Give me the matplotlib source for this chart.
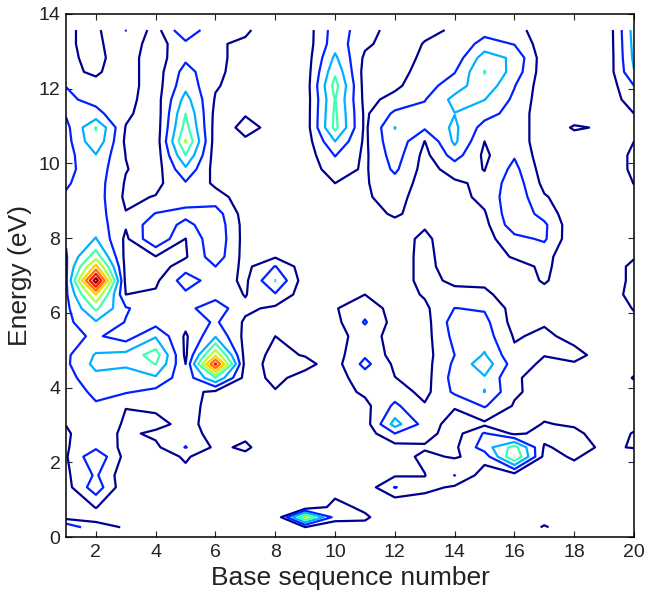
import numpy as np
import matplotlib
matplotlib.use("Agg")
import matplotlib.pyplot as plt

plt.rcParams['font.family'] = ['Liberation Sans', 'DejaVu Sans']

# energy rows (eV), bottom to top
energy = [0.26, 0.53, 0.8, 1.33, 1.65, 2.15, 2.4, 2.77, 3.02, 3.51, 3.885, 4.26, 4.63,
          4.87, 5.375, 5.75, 6.12, 6.49, 6.865, 7.24, 7.5, 7.98, 8.355, 8.65, 9.1, 9.47,
          9.845, 10.22, 10.59, 10.96, 11.335, 11.71, 12.08, 12.45, 12.825, 13.2, 13.57]
base_seq = list(range(1, 21))

# intensity per base sequence, one value per energy row
seq_01 = [2.8, .6, .6, .6, .8, .9, .9, .9, 1.02, 1.4, 1.5, 1.6, 1.8, 1.8, 1.7, 1.7, 1.7, 1.8, 1.8, 1.85, 1.9, 2.1, 2.2, 2.2, 2.1, 1.9, 1.7, 1.6, 1.6, 1.7, 2.1, 2.2, 1.98, 1.15, 1.15, 1.1, 1.1]
seq_02 = [1.22, .8, 1.02, 2.6, 2.15, 2.8, 1.8, 1.5, 1.5, 1.9, 2.2, 2.7, 3.3, 3.1, 2.15, 2.9, 4.2, 6.0, 9.6, 6.3, 4.6, 3.05, 2.6, 2.5, 2.5, 2.5, 2.6, 2.95, 3.8, 4.05, 2.3, 1.7, 1.2, .9, .8, .8, .8]
seq_03 = [.95, .7, .6, .2, .3, .65, .7, .8, .9, 1.02, 2.1, 2.7, 3.1, 3.3, 1.5, 1.95, 2.1, 1.0, .7, .7, .7, .8, 1.1, 1.05, .8, .9, 1.05, .98, .8, .95, 1.2, 1.3, 1.4, 1.4, 1.4, 1.6, 2.02]
seq_04 = [.6, .6, .6, .5, .5, .6, .8, 1.2, .7, 1.2, 1.7, 2.85, 4.05, 4.5, 2.9, 1.6, 1.4, 1.15, .8, .4, .95, 2.9, 2.7, 2.05, 1.05, .7, .5, .4, .4, .4, .4, .5, .5, .5, .5, .5, .6]
seq_05 = [.5, .5, .5, .6, .8, 1.1, 2.05, 1.5, 1.3, 1.3, 1.3, 1.3, 1.0, .8, .85, 1.3, 1.7, 1.8, 2.5, 1.6, .9, .98, 1.7, 2.3, 1.5, 1.9, 2.8, 4.0, 5.1, 4.4, 4.0, 3.4, 2.7, 2.4, 1.8, 1.75, 2.9]
seq_06 = [.5, .5, .5, .5, .5, .5, .8, .6, .6, .7, .8, 4.0, 8.2, 5.8, 2.9, 2.15, 2.6, 1.6, 1.5, 2.0, 2.6, 2.8, 2.7, 2.5, 1.4, .8, .6, .5, .5, .6, .7, .9, 1.1, 1.2, 1.2, 1.1, 1.1]
seq_07 = [.5, .5, .5, .5, .5, .8, 1.15, .8, .6, .6, .6, .6, .6, .6, .7, .85, 1.2, .95, .8, .7, .6, .6, .6, .5, .5, .5, .5, .5, .9, 1.2, .95, .5, .5, .6, .7, .85, 1.15]
seq_08 = [.3, 0, .3, .4, .4, .4, .4, .4, .4, .5, .95, 1.2, 1.3, 1.2, 1.0, .8, .8, 1.9, 3.02, 2.05, .9, .6, .5, .5, .5, .5, .5, .5, .5, .8, .5, .4, .4, .4, .4, .4, .4]
seq_09 = [.95, 5.2, .2, .4, .4, .4, .4, .4, .4, .4, .4, .7, 1.25, .95, .5, .4, .4, .4, .4, .4, .4, .4, .4, .4, .4, .4, .4, .4, .4, .4, .4, .4, .4, .4, .4, .4, .4]
seq_10 = [.1, 1.6, 1.3, .6, .4, .4, .4, .4, .4, .4, .5, .6, .6, .6, .6, .7, .93, .6, .5, .4, .4, .4, .4, .5, .8, 1.0, 1.5, 2.05, 3.0, 4.3, 4.2, 4.05, 4.4, 3.8, 3.2, 2.6, 2.5]
seq_11 = [.7, 1.15, .8, .4, .3, .3, .3, .4, .5, .7, 1.2, 1.5, 2.3, 1.85, 1.5, 2.1, 1.6, 1.0, .7, .5, .5, .5, .6, .7, .9, .9, .85, .8, .8, .8, .8, .7, .6, .6, .8, 1.2, 1.5]
seq_12 = [.3, .3, .0, 2.05, .9, .6, .6, 2.0, 3.4, 2.2, 1.5, 1.02, .8, .6, .6, .6, .6, .5, .5, .5, .5, .6, .8, 1.1, 1.3, 1.6, 2.2, 2.5, 2.8, 3.02, 2.2, 1.3, .8, .6, .5, .5, .5]
seq_13 = [.3, .3, .3, 1.3, .97, 1.2, .9, 1.3, 1.6, 1.1, .7, .6, .6, .6, .6, .6, .8, 1.1, 1.3, 1.3, 1.3, 1.2, .9, .7, .6, .6, .6, .7, .98, 2.15, 2.3, 1.95, 1.6, 1.4, 1.2, 1.05, .8]
seq_14 = [.3, .3, .3, .85, 2.02, .9, .8, .6, .5, 1.1, 2.2, 2.4, 2.2, 2.0, 2.3, 2.5, 2.02, 1.3, .8, .5, .4, .4, .4, .5, .6, .85, 1.4, 2.45, 3.2, 3.2, 2.98, 3.3, 2.5, 1.95, 1.4, 1.2, 1.1]
seq_15 = [.3, .3, .3, .3, .5, 1.4, 2.5, 2.1, .8, 2.1, 3.02, 2.9, 3.6, 3.1, 2.5, 2.3, 1.9, 1.2, .8, .5, .5, .6, .7, .9, 1.3, 1.2, .97, .8, 1.0, 1.6, 2.4, 3.02, 3.7, 4.05, 3.5, 2.4, 1.6]
seq_16 = [.3, .3, .3, .3, .5, 5.02, 4.4, .8, .6, .9, 1.15, 1.1, 1.5, 1.2, .9, .6, .6, .5, .5, .6, 1.1, 1.7, 2.6, 2.8, 2.7, 2.6, 2.3, 1.9, 1.6, 1.6, 1.6, 1.8, 2.05, 2.6, 2.8, 1.95, 1.4]
seq_17 = [1.1, .6, .4, .4, .5, .7, .9, 1.3, 1.05, .7, .6, .7, .8, 1.03, 1.2, .9, .7, .7, 1.1, 1.2, 1.3, 2.15, 2.2, 1.6, 1.1, .7, .5, .4, .4, .4, .4, .4, .4, .4, .4, .4, .4]
seq_18 = [.4, .4, .4, .4, .6, 1.1, 1.3, 1.2, .9, .5, .5, .6, .9, 1.3, .7, .5, .4, .4, .4, .4, .3, .2, .2, .3, .4, .4, .4, .4, .6, 1.1, .5, .4, .4, .4, .4, .4, .4]
seq_19 = [.4, .4, .4, .4, .4, .6, .87, .6, .4, .4, .4, .4, .5, .6, .5, .4, .4, .3, .2, .2, .3, .3, .3, .3, .3, .3, .3, .3, .5, .9, .4, .3, .2, .1, 0, 0, 0]
seq_20 = [.4, .4, .4, .4, .4, .5, 1.05, 1.05, .8, .7, .7, 1.05, .7, .7, .7, .8, 1.05, 1.4, 1.3, 1.3, .9, .7, .6, .6, .8, 1.02, 1.2, 1.2, 1.0, .8, 1.0, 1.5, 2.0, 2.95, 3.2, 3.3, 3.4]

levels = [1, 2, 3, 4, 5, 6, 7, 8, 9]
level_colors = ['#00008f', '#0020ff', '#00afff', '#40ffb0', '#b0ff40', '#ffd000', '#ff7000', '#ff1000', '#800000']

Z = np.column_stack([seq_01, seq_02, seq_03, seq_04, seq_05, seq_06, seq_07, seq_08, seq_09, seq_10,
                     seq_11, seq_12, seq_13, seq_14, seq_15, seq_16, seq_17, seq_18, seq_19, seq_20])

fig = plt.figure(figsize=(6.46, 5.92), dpi=100)
ax = fig.add_axes([66/646, 1-537/592, 568/646, 523/592])

ax.contour(base_seq, energy, Z, levels=levels, colors=level_colors, linewidths=1.6)

ax.set_xlim(1, 20)
ax.set_ylim(0, 14)
ax.set_xticks(range(2, 21, 2))
ax.set_yticks(range(0, 15, 2))
ax.tick_params(direction='in', top=True, right=True, length=4, width=0.8, labelsize=14, colors='#222222', pad=4)
ax.tick_params(axis='x', pad=5)
for s in ax.spines.values():
    s.set_linewidth(1.1)
ax.set_xlabel("Base sequence number", fontsize=19, color='#222222', labelpad=3.5)
ax.set_ylabel("Energy (eV)", fontsize=19, color='#222222', labelpad=5)

plt.savefig("out.png", dpi=100)
